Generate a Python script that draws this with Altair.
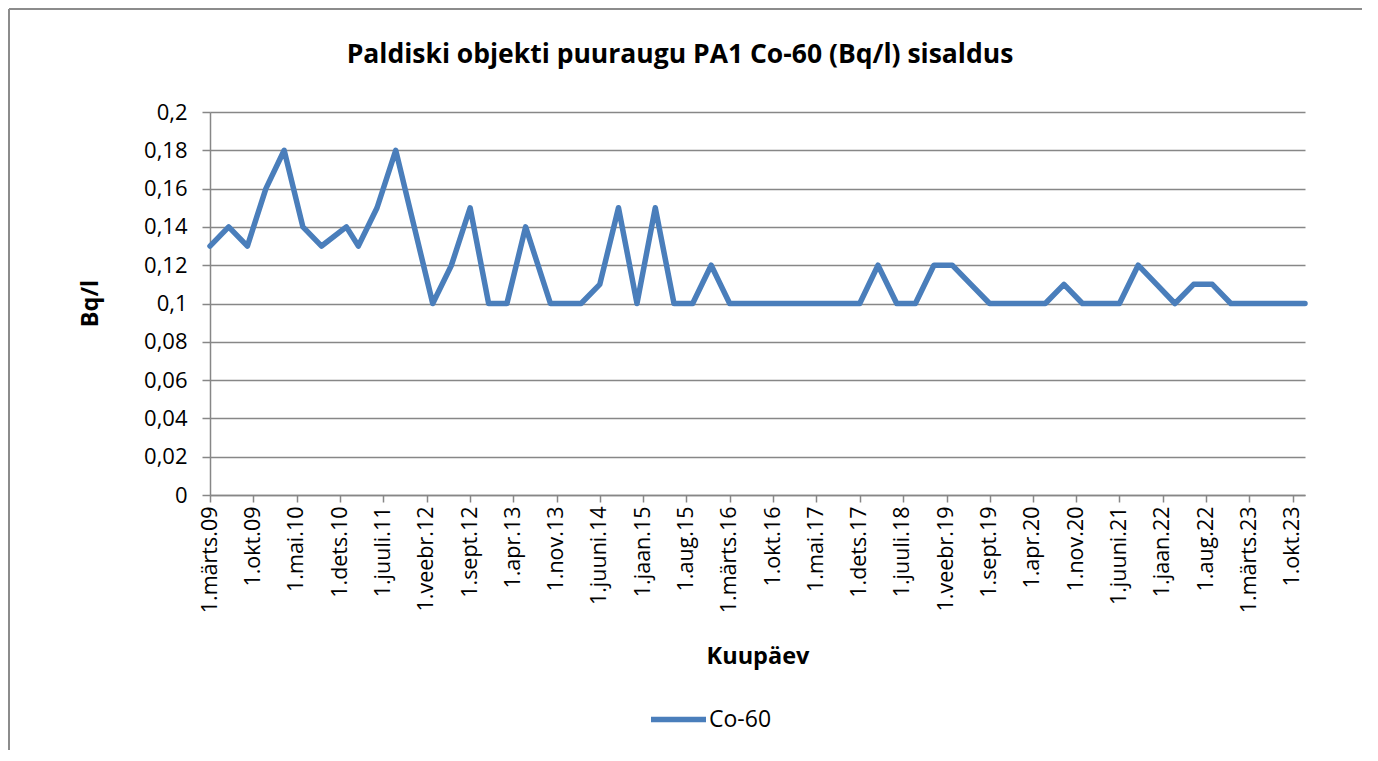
import altair as alt
import pandas as pd

# ---- data ----
dates = [
    "2009-03-01", "2009-06-01", "2009-09-01", "2009-12-01", "2010-03-01", "2010-06-01",
    "2010-09-01", "2011-01-01", "2011-03-01", "2011-06-01", "2011-09-01", "2011-12-01",
    "2012-03-01", "2012-06-01", "2012-09-01", "2012-12-01", "2013-03-01", "2013-06-01",
    "2013-10-01", "2014-03-01", "2014-06-01", "2014-09-01", "2014-12-01", "2015-03-01",
    "2015-06-01", "2015-09-01", "2015-12-01", "2016-03-01", "2016-06-01", "2016-09-01",
    "2016-12-01", "2017-03-01", "2017-06-01", "2017-09-01", "2017-12-01", "2018-03-01",
    "2018-06-01", "2018-09-01", "2018-12-01", "2019-03-01", "2019-06-01", "2019-09-01",
    "2019-12-01", "2020-03-01", "2020-06-01", "2020-09-01", "2020-12-01", "2021-03-01",
    "2021-06-01", "2021-09-01", "2021-12-01", "2022-03-01", "2022-06-01", "2022-09-01",
    "2022-12-01", "2023-03-01", "2023-06-01", "2023-09-01", "2023-12-01",
]
values = [
    0.13, 0.14, 0.13, 0.16, 0.18, 0.14,
    0.13, 0.14, 0.13, 0.15, 0.18, 0.14,
    0.10, 0.12, 0.15, 0.10, 0.10, 0.14,
    0.10, 0.10, 0.11, 0.15, 0.10, 0.15,
    0.10, 0.10, 0.12, 0.10, 0.10, 0.10,
    0.10, 0.10, 0.10, 0.10, 0.10, 0.12,
    0.10, 0.10, 0.12, 0.12, 0.11, 0.10,
    0.10, 0.10, 0.10, 0.11, 0.10, 0.10,
    0.10, 0.12, 0.11, 0.10, 0.11, 0.11,
    0.10, 0.10, 0.10, 0.10, 0.10,
]
series_name = "Co-60"

tick_dates = [
    "2009-03-01", "2009-10-01", "2010-05-01", "2010-12-01", "2011-07-01", "2012-02-01",
    "2012-09-01", "2013-04-01", "2013-11-01", "2014-06-01", "2015-01-01", "2015-08-01",
    "2016-03-01", "2016-10-01", "2017-05-01", "2017-12-01", "2018-07-01", "2019-02-01",
    "2019-09-01", "2020-04-01", "2020-11-01", "2021-06-01", "2022-01-01", "2022-08-01",
    "2023-03-01", "2023-10-01",
]
tick_labels = [
    "1.märts.09", "1.okt.09", "1.mai.10", "1.dets.10", "1.juuli.11", "1.veebr.12",
    "1.sept.12", "1.apr.13", "1.nov.13", "1.juuni.14", "1.jaan.15", "1.aug.15",
    "1.märts.16", "1.okt.16", "1.mai.17", "1.dets.17", "1.juuli.18", "1.veebr.19",
    "1.sept.19", "1.apr.20", "1.nov.20", "1.juuni.21", "1.jaan.22", "1.aug.22",
    "1.märts.23", "1.okt.23",
]
y_ticks = [0, 0.02, 0.04, 0.06, 0.08, 0.1, 0.12, 0.14, 0.16, 0.18, 0.2]

title_text = "Paldiski objekti puuraugu PA1 Co-60 (Bq/l) sisaldus"
x_title = "Kuupäev"
y_title = "Bq/l"

# ---- build ----
def ms(s):
    return int(pd.Timestamp(s, tz="UTC").value // 10**6)

tick_ms = [ms(d) for d in tick_dates]
label_expr = "[" + ",".join("'%s'" % t for t in tick_labels) + "][indexof([" + \
    ",".join(str(t) for t in tick_ms) + "], time(datum.value))]"

df = pd.DataFrame({"date": dates, "value": values, "series": series_name})
one = pd.DataFrame({"a": [0]})

FONT = "Open Sans"
GRID = "#878787"
BLUE = "#4a7ebb"

line = alt.Chart(df).mark_line(strokeWidth=5.5, strokeJoin="round", strokeCap="round").encode(
    x=alt.X(
        "date:T",
        scale=alt.Scale(type="utc", domain=[ms(dates[0]), ms(dates[-1])], nice=False),
        axis=alt.Axis(
            values=tick_ms,
            labelExpr=label_expr,
            labelAngle=270,
            labelFontSize=21.5,
            labelFont=FONT,
            labelColor="#000000",
            labelPadding=4,
            tickSize=7,
            tickColor=GRID,
            tickWidth=1.5,
            domainColor=GRID,
            domainWidth=1.5,
            grid=False,
            title=x_title,
            titleFont=FONT,
            titleFontSize=23.5,
            titleFontWeight="bold",
            titleColor="#000000",
            titleY=168,
            titleBaseline="alphabetic",
            labelOverlap=False,
            labelFlush=False,
        ),
    ),
    y=alt.Y(
        "value:Q",
        scale=alt.Scale(domain=[0, 0.2], nice=False),
        axis=alt.Axis(
            values=y_ticks,
            labelExpr="replace(format(datum.value, '.2~f'), '.', ',')",
            labelFontSize=22,
            labelFont=FONT,
            labelColor="#000000",
            labelPadding=15,
            tickSize=8,
            tickColor=GRID,
            tickWidth=1.5,
            domainColor=GRID,
            domainWidth=1.5,
            gridColor=GRID,
            gridWidth=1.5,
            title=y_title,
            titleFont=FONT,
            titleFontSize=23.5,
            titleFontWeight="bold",
            titleColor="#000000",
            titleAngle=270,
            titleX=-120,
            titleY=191,
            titleAlign="center",
            titleBaseline="middle",
        ),
    ),
    color=alt.Color(
        "series:N",
        scale=alt.Scale(range=[BLUE]),
        legend=alt.Legend(
            title=None,
            orient="none",
            legendX=438,
            legendY=577,
            symbolType="stroke",
            symbolSize=3025,
            symbolStrokeWidth=5.5,
            labelFont=FONT,
            labelFontSize=23,
            labelColor="#000000",
            labelOffset=0,
            padding=0,
        ),
    ),
)

frame_left = alt.Chart(one).mark_rule(color="#8c8c8c", strokeWidth=2).encode(
    x=alt.value(-201), x2=alt.value(-201), y=alt.value(-103), y2=alt.value(638)
)
frame_top = alt.Chart(one).mark_rule(color="#8c8c8c", strokeWidth=2).encode(
    x=alt.value(-201), x2=alt.value(1152), y=alt.value(-103), y2=alt.value(-103)
)
title = alt.Chart(one).mark_text(
    text=title_text, font=FONT, fontSize=26.5, fontWeight="bold", color="#000000",
    align="center", baseline="middle",
).encode(x=alt.value(470), y=alt.value(-57))

chart = alt.layer(frame_left, frame_top, title, line).properties(
    width=1095, height=383, padding=0, background="white"
).configure_view(stroke=None)

chart.save("out.html", embed_options={"renderer": "svg", "actions": False})
